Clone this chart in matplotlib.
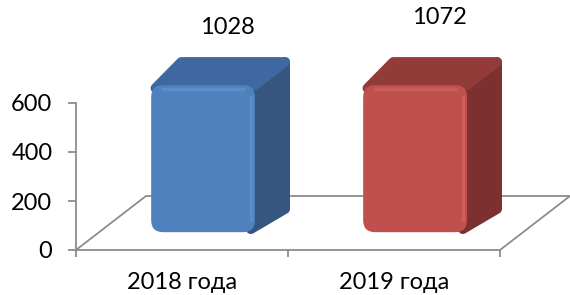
import matplotlib
matplotlib.use("Agg")
import matplotlib.pyplot as plt
import numpy as np
from matplotlib.patches import FancyBboxPatch, Polygon

categories = ["2018 года", "2019 года"]
values = [1028, 1072]
y_ticks = [0, 200, 400, 600]

front_colors = ["#4F81BD", "#C0504D"]
side_colors = ["#36557F", "#7C302F"]
top_colors = ["#3F68A0", "#933B39"]
light_colors = ["#6F9DD8", "#DA6F6B"]
grid_color = "#8C8C8C"

plt.rcParams["font.family"] = ["Lato", "DejaVu Sans"]

fig = plt.figure(figsize=(5.7, 2.95), dpi=100)
ax = fig.add_axes([76 / 570, 45 / 295, 424 / 570, 147 / 295])
ncat = len(categories)
ymax = y_ticks[-1]
ax.set_xlim(0, ncat)
ax.set_ylim(0, ymax)

# pixels per data unit, used for the oblique depth and round corners
px_x = 424 / ncat
px_y = 147 / ymax
dx = 70 / px_x
dy = 54 / px_y

# floor
ax.plot([0, dx, ncat + dx, ncat, 0], [0, dy, dy, 0, 0], color=grid_color,
        lw=1.3, clip_on=False, zorder=1)

# bars (Excel clips them at the axis max)
heights = np.minimum(values, ymax)
bw = 0.49
d0, d1 = 0.33, 0.76
r = 12 / px_x
aspect = px_x / px_y
ddx = (d1 - d0) * dx
ddy = (d1 - d0) * dy
for i, h in enumerate(heights):
    x0 = i + 0.5 - bw / 2 + d0 * dx - 2 / px_x
    y0 = d0 * dy
    side = [(x0 + bw - 0.02, y0 + 3 / px_y), (x0 + bw + ddx, y0 + ddy),
            (x0 + bw + ddx, y0 + h + ddy), (x0 + bw, y0 + h)]
    ax.add_patch(Polygon(side, closed=True, facecolor=side_colors[i],
                         edgecolor=side_colors[i], lw=7, joinstyle="round",
                         clip_on=False, zorder=2))
    top = [(x0 + 0.02, y0 + h - 3 / px_y), (x0 + bw, y0 + h),
           (x0 + bw + ddx, y0 + h + ddy), (x0 + ddx, y0 + h + ddy)]
    ax.add_patch(Polygon(top, closed=True, facecolor=top_colors[i],
                         edgecolor=top_colors[i], lw=7, joinstyle="round",
                         clip_on=False, zorder=3))
    ax.add_patch(FancyBboxPatch((x0, y0), bw, h,
                                boxstyle=f"round,pad=0,rounding_size={r}",
                                mutation_aspect=aspect,
                                facecolor=front_colors[i], edgecolor="none",
                                clip_on=False, zorder=4))
    # bevel highlights
    ax.plot([x0 + bw - 4 / px_x] * 2, [y0 + r * aspect, y0 + h - r * aspect],
            color=light_colors[i], lw=2.5, alpha=0.45, zorder=5, clip_on=False)
    ax.plot([x0 + r, x0 + bw - r], [y0 + h - 4 / px_y] * 2,
            color=light_colors[i], lw=2.5, alpha=0.45, zorder=5, clip_on=False)

# value labels
for i, v in enumerate(values):
    xc = i + 0.5 + 0.65 * dx
    ax.text(xc, v * 0.885, str(v), ha="center", va="center", fontsize=17,
            clip_on=False)

ax.set_xticks(np.arange(ncat) + 0.5, categories)
ax.set_xticks(np.arange(ncat + 1), minor=True)
ax.set_yticks(y_ticks)
ax.tick_params(axis="x", which="major", length=0, pad=16, labelsize=17)
ax.tick_params(axis="x", which="minor", length=5, width=1.3, color=grid_color)
ax.tick_params(axis="y", length=6, width=1.3, color=grid_color, pad=11,
               labelsize=17)
for s in ["top", "right", "bottom"]:
    ax.spines[s].set_visible(False)
ax.spines["left"].set_color(grid_color)
ax.spines["left"].set_linewidth(1.3)
ax.set_facecolor("none")

fig.savefig("out.png", dpi=100)
